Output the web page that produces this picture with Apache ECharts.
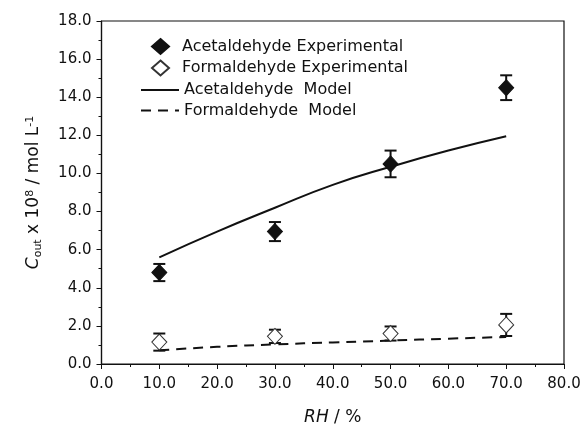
<!DOCTYPE html>
<html>
<head>
<meta charset="utf-8">
<script src="https://cdn.jsdelivr.net/npm/echarts@6/dist/echarts.min.js"></script>
<style>
html,body{margin:0;padding:0;background:#fff;}
#chart{width:584px;height:424px;}
</style>
</head>
<body>
<div id="chart"></div>
<script>
// ---- data ----
const rhValues = [10, 30, 50, 70];
const acetExp = [4.8, 6.95, 10.5, 14.5];
const acetErr = [0.45, 0.5, 0.7, 0.65];
const formExp = [1.15, 1.45, 1.6, 2.05];
const formErr = [0.45, 0.35, 0.37, 0.58];

const modelRH = [10, 20, 30, 40, 50, 60, 70];
const acetModel = [5.6, 6.95, 8.2, 9.4, 10.35, 11.2, 11.95];
const formModel = [0.72, 0.9, 1.03, 1.13, 1.23, 1.33, 1.42];

const xTicks = ['0.0','10.0','20.0','30.0','40.0','50.0','60.0','70.0','80.0'];

const FONT = 'DejaVu Sans';
const INK = '#111';

function pairs(xs, ys) { return xs.map((x, i) => [x, ys[i]]); }
function errRows(xs, ys, es) { return xs.map((x, i) => [x, ys[i] - es[i], ys[i] + es[i]]); }

function errRender(params, api) {
  const x = api.value(0);
  const lo = api.coord([x, api.value(1)]);
  const hi = api.coord([x, api.value(2)]);
  const hw = 6;
  const style = { stroke: INK, lineWidth: 2 };
  return {
    type: 'group',
    children: [
      { type: 'line', shape: { x1: lo[0], y1: lo[1], x2: hi[0], y2: hi[1] }, style: style },
      { type: 'line', shape: { x1: lo[0] - hw, y1: lo[1], x2: lo[0] + hw, y2: lo[1] }, style: style },
      { type: 'line', shape: { x1: hi[0] - hw, y1: hi[1], x2: hi[0] + hw, y2: hi[1] }, style: style }
    ]
  };
}

const chart = echarts.init(document.getElementById('chart'), null, { renderer: 'canvas' });
chart.setOption({
  animation: false,
  backgroundColor: '#fff',
  grid: { left: 101.5, right: 20, top: 21, bottom: 60, containLabel: false, outerBoundsMode: 'none',
    show: true, borderColor: INK, borderWidth: 1.2, backgroundColor: 'transparent' },
  xAxis: {
    type: 'value', min: 0, max: 80, interval: 10,
    name: '{i|RH} / %', nameLocation: 'middle', nameGap: 45,
    nameTextStyle: { fontFamily: FONT, fontSize: 17, color: INK,
      rich: { i: { fontFamily: FONT, fontSize: 17, fontStyle: 'italic', color: INK } } },
    axisLine: { show: true, onZero: false, lineStyle: { color: INK, width: 1.2 } },
    axisTick: { show: true, inside: false, length: 5, lineStyle: { color: INK } },
    minorTick: { show: true, splitNumber: 2, length: 3, lineStyle: { color: INK } },
    axisLabel: { margin: 13, fontFamily: FONT, fontSize: 15, color: INK,
      formatter: v => xTicks[Math.round(v / 10)] },
    splitLine: { show: false }
  },
  yAxis: {
    type: 'value', min: 0, max: 18, interval: 2,
    name: '{i|C}{sub|out} x 10{sup|8} / mol L{sup|-1}', nameLocation: 'middle', nameGap: 58, nameRotate: 90,
    nameTextStyle: { fontFamily: FONT, fontSize: 17, color: INK,
      rich: {
        i: { fontFamily: FONT, fontSize: 17, fontStyle: 'italic', color: INK },
        sub: { fontFamily: FONT, fontSize: 11, color: INK, verticalAlign: 'bottom', padding: [8, 0, 0, 0] },
        sup: { fontFamily: FONT, fontSize: 11, color: INK, verticalAlign: 'top', padding: [0, 0, 8, 0] }
      } },
    axisLine: { show: true, onZero: false, lineStyle: { color: INK, width: 1.2 } },
    axisTick: { show: true, inside: false, length: 5, lineStyle: { color: INK } },
    minorTick: { show: true, splitNumber: 2, length: 3, lineStyle: { color: INK } },
    axisLabel: { margin: 10, fontFamily: FONT, fontSize: 15, color: INK, formatter: v => v.toFixed(1) },
    splitLine: { show: false }
  },
  legend: [
    {
      orient: 'vertical', left: 146, top: 33, itemWidth: 17, itemHeight: 15, itemGap: 4.5,
      textStyle: { fontFamily: FONT, fontSize: 16, color: INK, padding: [0, 0, 0, 8] },
      data: [
        { name: 'Acetaldehyde Experimental', icon: 'diamond' },
        { name: 'Formaldehyde Experimental', icon: 'diamond' }
      ]
    },
    {
      orient: 'vertical', left: 135, top: 77, itemWidth: 38, itemHeight: 15, itemGap: 4.5,
      itemStyle: { color: 'rgba(0,0,0,0)', borderWidth: 0, opacity: 0 },
      textStyle: { fontFamily: FONT, fontSize: 16, color: INK },
      data: [ 'Acetaldehyde  Model', 'Formaldehyde  Model' ]
    }
  ],
  series: [
    {
      name: 'Acetaldehyde  Model', type: 'line', data: pairs(modelRH, acetModel),
      symbol: 'none', smooth: true, z: 2,
      lineStyle: { color: INK, width: 2, type: 'solid' }, itemStyle: { color: INK }
    },
    {
      name: 'Formaldehyde  Model', type: 'line', data: pairs(modelRH, formModel),
      symbol: 'none', smooth: true, z: 2,
      lineStyle: { color: INK, width: 2, type: [10, 7] }, itemStyle: { color: INK }
    },
    { type: 'custom', renderItem: errRender, data: errRows(rhValues, acetExp, acetErr), z: 3, silent: true },
    { type: 'custom', renderItem: errRender, data: errRows(rhValues, formExp, formErr), z: 3, silent: true },
    {
      name: 'Acetaldehyde Experimental', type: 'scatter', data: pairs(rhValues, acetExp),
      symbol: 'diamond', symbolSize: [15, 16], z: 4,
      itemStyle: { color: INK, borderColor: INK, borderWidth: 1, opacity: 1 }
    },
    {
      name: 'Formaldehyde Experimental', type: 'scatter', data: pairs(rhValues, formExp),
      symbol: 'diamond', symbolSize: [15, 16], z: 4,
      itemStyle: { color: '#fff', borderColor: '#333', borderWidth: 1, opacity: 1 }
    }
  ]
});
</script>
</body>
</html>
